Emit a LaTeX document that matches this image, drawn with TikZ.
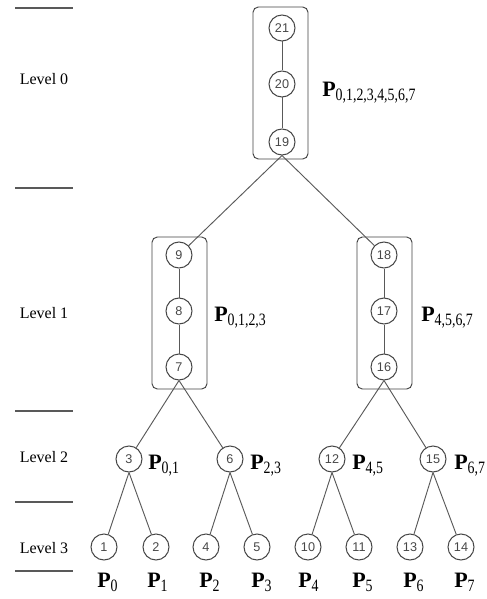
\documentclass[tikz,border=0pt]{standalone}
\usepackage{fontspec}
\setmainfont{Liberation Serif}
\newfontfamily\numfont{Liberation Sans}
% bold P with a tall, narrow, lowered index
\newcommand\Plab[1]{\textbf{P}\raisebox{-3pt}{\scalebox{0.8}[1]{\fontsize{13}{14}\selectfont #1}}}
\begin{document}
\begin{tikzpicture}[x=0.75pt,y=-0.75pt,
  vert/.style={circle,draw=black!72,line width=0.75pt,minimum size=19.5pt,inner sep=0pt,
    font=\numfont\fontsize{9.5}{10}\selectfont,text=black!72},
  group/.style={draw=black!75,line width=0.7pt,rounded corners=4pt},
  edge/.style={draw=black!65,line width=0.7pt},
  sep/.style={draw=black!65,line width=0.9pt},
  lvl/.style={font=\fontsize{12}{14}\selectfont,anchor=base,inner sep=0pt},
  plab/.style={font=\fontsize{16.5}{18}\selectfont,anchor=base west,inner sep=0pt}]
\useasboundingbox (0,0) rectangle (486,599);

% level separators and labels
\foreach \y/\n in {8/s0,188/s1,411/s2,502/s3,571/s4}
  \draw[sep] (15,\y) coordinate (\n a) -- (73,\y) coordinate (\n b);
\node[lvl] (l0) at (44,85) {Level 0};
\node[lvl] (l1) at (44,318) {Level 1};
\node[lvl] (l2) at (44,462) {Level 2};
\node[lvl] (l3) at (44,553) {Level 3};

% level 0 group
\draw[group] (253,7) rectangle (308,159);
\node[vert] (v21) at (282,28) {21};
\node[vert] (v20) at (282,84) {20};
\node[vert] (v19) at (282,142) {19};
\node[plab] (p0to7) at (322,97) {\Plab{0,1,2,3,4,5,6,7}};

% level 1 groups
\draw[group] (152,237) rectangle (207,389);
\node[vert] (v9) at (179,255) {9};
\node[vert] (v8) at (179,311) {8};
\node[vert] (v7) at (179,367) {7};
\node[plab] (p0to3) at (214,321) {\Plab{0,1,2,3}};

\draw[group] (357,237) rectangle (412,389);
\node[vert] (v18) at (384,255) {18};
\node[vert] (v17) at (384,311) {17};
\node[vert] (v16) at (384,367) {16};
\node[plab] (p4to7) at (421,321) {\Plab{4,5,6,7}};

% level 2
\node[vert] (v3) at (129,459) {3};
\node[vert] (v6) at (230,459) {6};
\node[vert] (v12) at (332,459) {12};
\node[vert] (v15) at (433,459) {15};
\node[plab] (p01) at (148,469) {\Plab{0,1}};
\node[plab] (p23) at (250,469) {\Plab{2,3}};
\node[plab] (p45) at (352,469) {\Plab{4,5}};
\node[plab] (p67) at (454,469) {\Plab{6,7}};

% level 3
\foreach \n/\x in {1/104,2/156,4/206,5/257,10/308,11/359,13/410,14/461}
  \node[vert] (v\n) at (\x,547) {\n};
\foreach \i/\x in {0/97,1/147,2/199,3/251,4/298,5/352,6/403,7/454}
  \node[plab] (q\i) at (\x,587) {\Plab{\i}};

% chains inside groups
\draw[edge] (v21) -- (v20) -- (v19);
\draw[edge] (v9) -- (v8) -- (v7);
\draw[edge] (v18) -- (v17) -- (v16);

% tree edges
\draw[edge] (v19.south) -- (v9);
\draw[edge] (v19.south) -- (v18);
\draw[edge] (v7.south) -- (v3);
\draw[edge] (v7.south) -- (v6);
\draw[edge] (v16.south) -- (v12);
\draw[edge] (v16.south) -- (v15);
\draw[edge] (v3.south) -- (v1);
\draw[edge] (v3.south) -- (v2);
\draw[edge] (v6.south) -- (v4);
\draw[edge] (v6.south) -- (v5);
\draw[edge] (v12.south) -- (v10);
\draw[edge] (v12.south) -- (v11);
\draw[edge] (v15.south) -- (v13);
\draw[edge] (v15.south) -- (v14);
\end{tikzpicture}
\end{document}
